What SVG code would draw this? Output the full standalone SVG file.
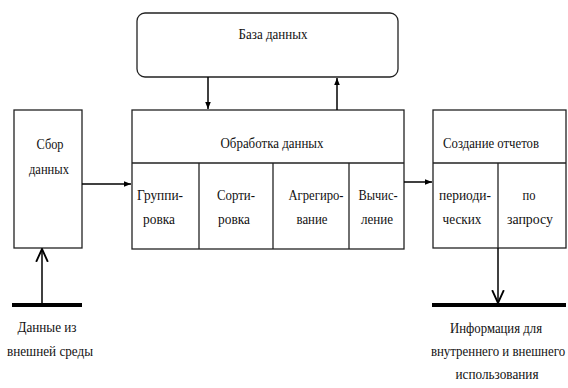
<svg xmlns="http://www.w3.org/2000/svg" width="568" height="388" viewBox="0 0 568 388">
<style>
.box{fill:#fff;stroke:#222;stroke-width:1.3}
.div{fill:none;stroke:#222;stroke-width:1.3}
.ln{fill:none;stroke:#000;stroke-width:1.5}
.thick{fill:none;stroke:#000;stroke-width:4}
.t{font-size:15px;fill:#111;text-anchor:middle}
</style>
<defs>
<marker id="fill" viewBox="0 0 10 10" refX="10" refY="5" markerWidth="7" markerHeight="7" markerUnits="userSpaceOnUse" orient="auto">
<path d="M0,1 L10,5 L0,9 Z" fill="#000"/>
</marker>
<marker id="open" viewBox="0 0 12 12" refX="11" refY="6" markerWidth="14" markerHeight="14" markerUnits="userSpaceOnUse" orient="auto">
<path d="M0,1 L11,6 L0,11" fill="none" stroke="#000" stroke-width="1.6"/>
</marker>
</defs>
<g font-family="Liberation Serif, Times New Roman, serif">
<g id="db">
<rect class="box" x="137" y="13" width="261" height="64" rx="8"/>
<text class="t" x="273" y="39" textLength="69" lengthAdjust="spacingAndGlyphs">База данных</text>
</g>
<g id="sbor">
<rect class="box" x="14" y="110" width="68" height="138"/>
<text class="t" x="50" y="149" textLength="27" lengthAdjust="spacingAndGlyphs">Сбор</text>
<text class="t" x="49" y="174" textLength="40" lengthAdjust="spacingAndGlyphs">данных</text>
</g>
<g id="obrabotka">
<rect class="box" x="132" y="110" width="272" height="139"/>
<line class="div" x1="132" y1="163" x2="404" y2="163"/>
<line class="div" x1="199" y1="163" x2="199" y2="249"/>
<line class="div" x1="273" y1="163" x2="273" y2="249"/>
<line class="div" x1="349" y1="163" x2="349" y2="249"/>
<text class="t" x="272" y="148" textLength="103" lengthAdjust="spacingAndGlyphs">Обработка данных</text>
<text class="t" x="160" y="200" textLength="46" lengthAdjust="spacingAndGlyphs">Группи-</text>
<text class="t" x="159" y="224" textLength="32" lengthAdjust="spacingAndGlyphs">ровка</text>
<text class="t" x="236" y="200" textLength="38" lengthAdjust="spacingAndGlyphs">Сорти-</text>
<text class="t" x="234" y="224" textLength="32" lengthAdjust="spacingAndGlyphs">ровка</text>
<text class="t" x="316" y="200" textLength="55" lengthAdjust="spacingAndGlyphs">Агрегиро-</text>
<text class="t" x="312" y="224" textLength="31" lengthAdjust="spacingAndGlyphs">вание</text>
<text class="t" x="378" y="200" textLength="39" lengthAdjust="spacingAndGlyphs">Вычис-</text>
<text class="t" x="377" y="224" textLength="32" lengthAdjust="spacingAndGlyphs">ление</text>
</g>
<g id="otchet">
<rect class="box" x="433" y="110" width="133" height="138"/>
<line class="div" x1="433" y1="163" x2="566" y2="163"/>
<line class="div" x1="498" y1="163" x2="498" y2="248"/>
<text class="t" x="491" y="148" textLength="96" lengthAdjust="spacingAndGlyphs">Создание отчетов</text>
<text class="t" x="465" y="200" textLength="52" lengthAdjust="spacingAndGlyphs">периоди-</text>
<text class="t" x="462" y="224" textLength="39" lengthAdjust="spacingAndGlyphs">ческих</text>
<text class="t" x="529" y="200" textLength="13" lengthAdjust="spacingAndGlyphs">по</text>
<text class="t" x="530" y="224" textLength="46" lengthAdjust="spacingAndGlyphs">запросу</text>
</g>
<g id="source">
<line class="thick" x1="12" y1="305" x2="82" y2="305"/>
<text class="t" x="47" y="332" textLength="59" lengthAdjust="spacingAndGlyphs">Данные из</text>
<text class="t" x="50" y="356" textLength="86" lengthAdjust="spacingAndGlyphs">внешней среды</text>
</g>
<g id="sink">
<line class="thick" x1="432" y1="305" x2="566" y2="305"/>
<text class="t" x="496" y="333" textLength="92" lengthAdjust="spacingAndGlyphs">Информация для</text>
<text class="t" x="0" y="0" transform="translate(498,356) scale(0.86,1)">внутреннего и внешнего</text>
<text class="t" x="497" y="379" textLength="83" lengthAdjust="spacingAndGlyphs">использования</text>
</g>
</g>
<g id="connectors">
<line class="ln" x1="208" y1="77" x2="208" y2="109" marker-end="url(#fill)"/>
<line class="ln" x1="337" y1="110" x2="337" y2="78" marker-end="url(#fill)"/>
<line class="ln" x1="82" y1="184" x2="131" y2="184" marker-end="url(#fill)"/>
<line class="ln" x1="404" y1="182" x2="432" y2="182" marker-end="url(#fill)"/>
<line class="ln" x1="42" y1="303" x2="42" y2="249" stroke-width="2" marker-end="url(#open)"/>
<line class="ln" x1="498" y1="248" x2="498" y2="303" stroke-width="2" marker-end="url(#open)"/>
</g>
</svg>
